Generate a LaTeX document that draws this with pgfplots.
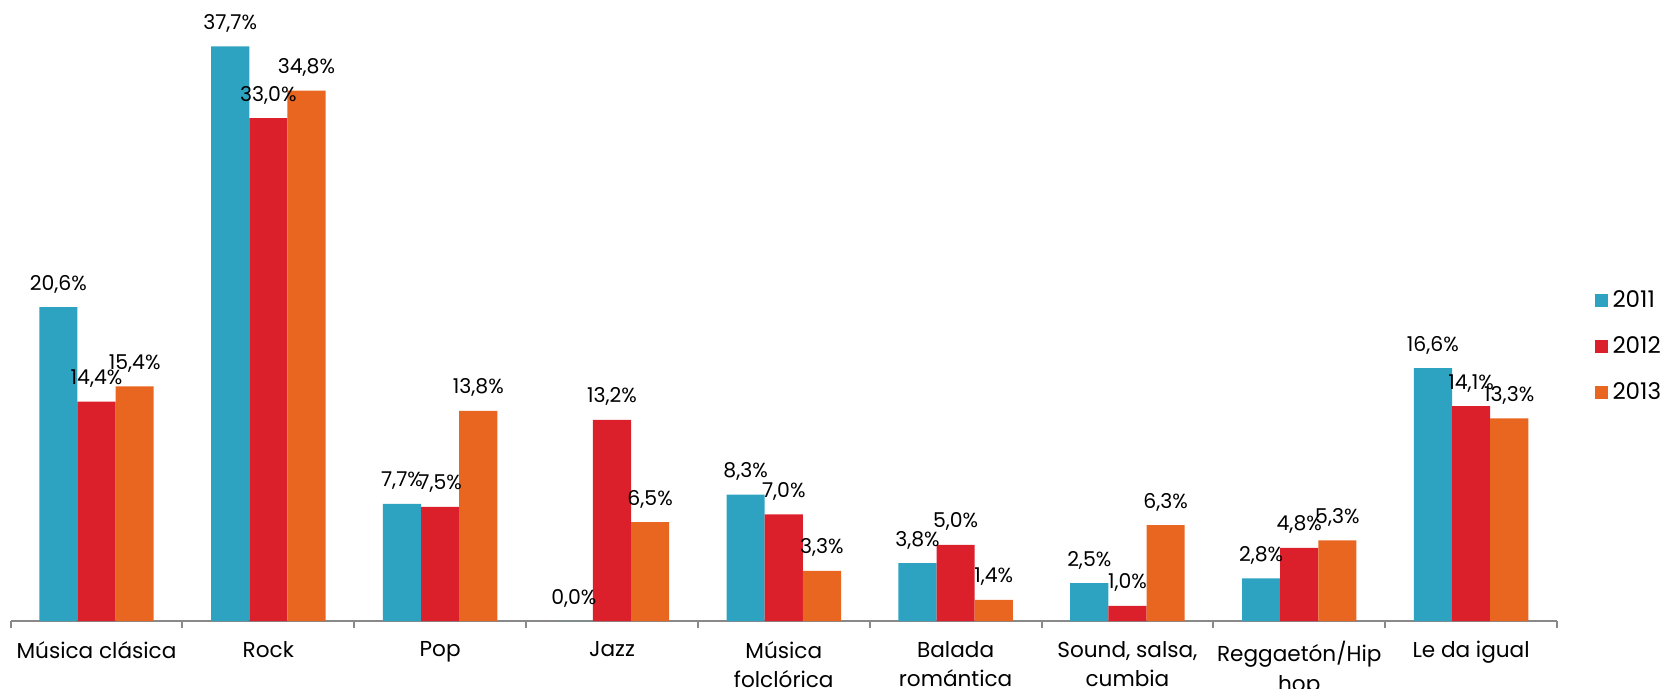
\documentclass[border=0pt]{standalone}
\usepackage{pgfplots}
\pgfplotsset{compat=1.18}
\usepackage{fontspec}
\setmainfont{Poppins}
\definecolor{c2011}{RGB}{46,163,193}
\definecolor{c2012}{RGB}{219,32,44}
\definecolor{c2013}{RGB}{233,102,32}
\definecolor{axgray}{RGB}{137,137,137}

\pgfplotstableread{
x  y2011 y2012 y2013
0  20.6  14.4  15.4
1  37.7  33.0  34.8
2  7.7   7.5   13.8
3  0.0   13.2  6.5
4  8.3   7.0   3.3
5  3.8   5.0   1.4
6  2.5   1.0   6.3
7  2.8   4.8   5.3
8  16.6  14.1  13.3
}\datatable

\begin{document}
\begin{tikzpicture}
\begin{axis}[
    name=ax,
    scale only axis,
    width=773pt, height=304.8pt,
    ybar=0pt, bar width=0.222,
    xmin=-0.5, xmax=8.5, ymin=0, ymax=40,
    axis y line=none,
    axis x line*=bottom,
    x axis line style={axgray, line width=1pt, -},
    xtick={0,...,8},
    xticklabels={Música clásica, Rock, Pop, Jazz, Música\\folclórica, Balada\\romántica, {Sound, salsa,\\cumbia}, Reggaetón/Hip\\hop, Le da igual},
    xticklabel style={align=center, font=\fontsize{10.8}{14.8}\selectfont, text=black, yshift=-6.5pt},
    major tick length=0pt,
    minor xtick={-0.5,0.5,...,8.5},
    minor tick length=3.6pt,
    tick align=outside,
    minor tick style={axgray, line width=1pt},
    /pgf/number format/assume math mode=true,
    nodes near coords={\pgfmathprintnumber[fixed,fixed zerofill,precision=1,use comma]{\pgfplotspointmeta}\%},
    every node near coord/.append style={font=\fontsize{10.2}{12}\selectfont, text=black, yshift=3.5pt},
    legend style={at={(1.024,0.451)}, anchor=west, draw=none, fill=none,
        font=\fontsize{11.5}{13}\selectfont, row sep=9pt, inner sep=0pt,
        nodes={inner xsep=2.5pt}},
    legend cell align=left,
    legend image code/.code={\fill[#1] (0pt,-3.25pt) rectangle (6.5pt,3.25pt);},
    clip=false,
]
\addplot[fill=c2011, draw=none] table[x=x, y=y2011] {\datatable};
\addplot[fill=c2012, draw=none] table[x=x, y=y2012] {\datatable};
\addplot[fill=c2013, draw=none] table[x=x, y=y2013] {\datatable};
\legend{2011,2012,2013}
\end{axis}
\pgfresetboundingbox
\path[use as bounding box] ([xshift=-5.3pt,yshift=-33.5pt]ax.south west) rectangle ([xshift=54pt,yshift=5.7pt]ax.north east);
\end{tikzpicture}
\end{document}
